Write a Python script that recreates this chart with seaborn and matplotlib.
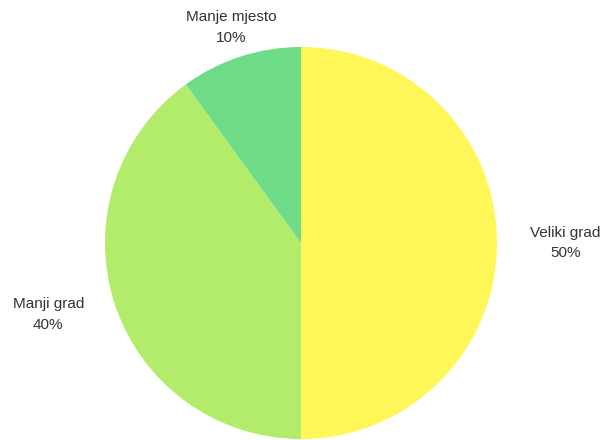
import numpy as np
import matplotlib
matplotlib.use("Agg")
import matplotlib.pyplot as plt
import seaborn as sns

categories = ["Veliki grad", "Manji grad", "Manje mjesto"]
values = [50, 40, 10]
colors = ["#FFF757", "#B3EC6B", "#6EDC87"]
label_dist = [1.35, 1.34, 1.157]
label_turn = [0.0, -2.2, 0.0]

sns.set_theme(style="white")
plt.rcParams["font.family"] = ["Liberation Sans", "DejaVu Sans"]

fig = plt.figure(figsize=(6.03, 4.40), dpi=100)
ax = fig.add_axes([0, 0, 1, 1])
cx, cy, r = 301, 440 - 243, 196
wedges, texts = ax.pie(values, colors=colors, startangle=90, counterclock=False,
                       center=(cx, cy), radius=r, labels=None,
                       wedgeprops=dict(linewidth=0))
for w, cat, v, d, t in zip(wedges, categories, values, label_dist, label_turn):
    ang = np.deg2rad((w.theta1 + w.theta2) / 2 + t)
    x = cx + d * r * np.cos(ang)
    y = cy + d * r * np.sin(ang)
    ax.text(x, y, f"{cat}\n{v}%", ha="center", va="center", fontsize=11,
            color="#333333", linespacing=1.6)
ax.set_xlim(0, 603)
ax.set_ylim(0, 440)
ax.set_aspect("equal")
ax.axis("off")
fig.savefig("out.png", dpi=100)
